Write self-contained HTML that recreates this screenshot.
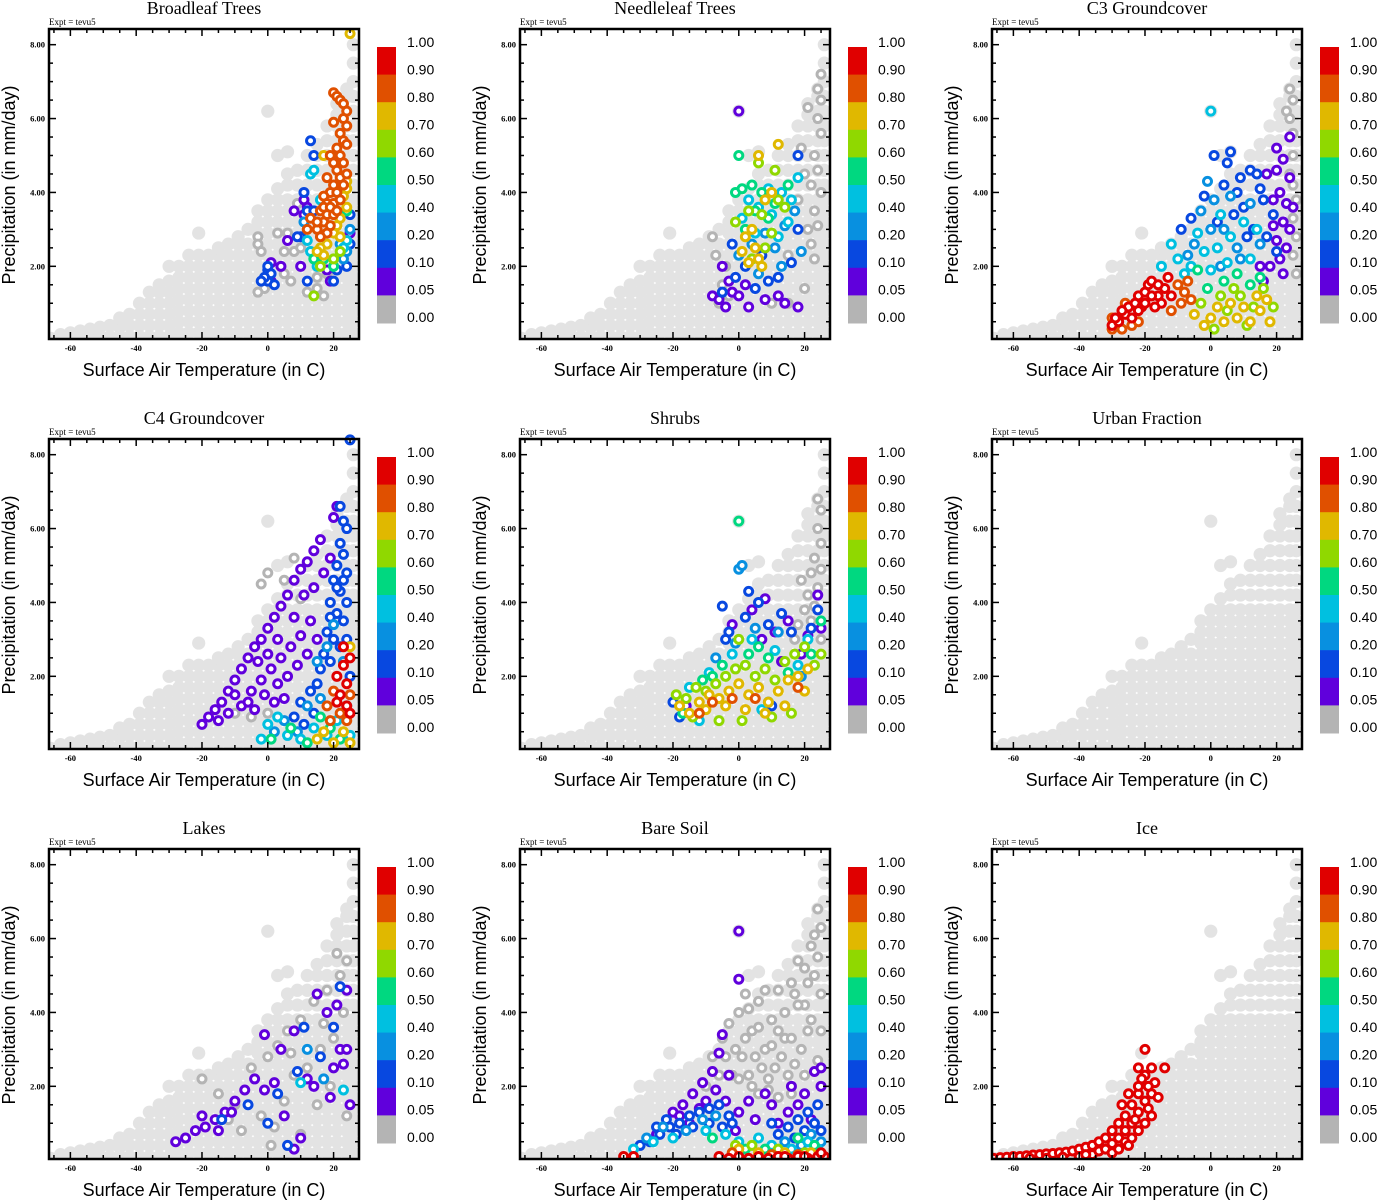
<!DOCTYPE html>
<html><head><meta charset="utf-8"><style>
html,body{margin:0;padding:0;background:#fff;}
svg{display:block;}
.tt{font-family:"Liberation Serif",serif;font-size:18px;fill:#000;text-anchor:middle;}
.ex{font-family:"Liberation Serif",serif;font-size:9px;fill:#000;}
.tk{font-family:"Liberation Serif",serif;font-size:8.5px;font-weight:bold;fill:#000;}
.at{font-family:"Liberation Sans",sans-serif;font-size:18px;fill:#000;text-anchor:middle;}
.cl{font-family:"Liberation Sans",sans-serif;font-size:14px;fill:#000;}
</style></head><body>
<svg id="fig" width="1377" height="1200" viewBox="0 0 1377 1200" xmlns="http://www.w3.org/2000/svg"></svg>
<script>
const panelTitles = ["Broadleaf Trees","Needleleaf Trees","C3 Groundcover","C4 Groundcover","Shrubs","Urban Fraction","Lakes","Bare Soil","Ice"];
const xTicks = [-60,-40,-20,0,20];
const yTicks = [2,4,6,8];
const yTickLabels = ["2.00","4.00","6.00","8.00"];
const levelLabels = ["1.00","0.90","0.80","0.70","0.60","0.50","0.40","0.20","0.10","0.05","0.00"];
const levels = [0,0.05,0.1,0.2,0.4,0.5,0.6,0.7,0.8,0.9,1.0];
const binColors = ["#b4b4b4","#6000dc","#0848e0","#0890e0","#00c0e0","#00d880","#90d800","#e0b800","#e05000","#e00000"];
// background (all gridboxes): [T, [P...]]
const bgCols = [
[-66,[0.05]],[-63,[0.05,0.15]],[-60,[0.05,0.2]],[-57,[0.1,0.25]],[-54,[0.1,0.3]],[-51,[0.1,0.35]],[-48,[0.1,0.4]],
[-45,[0.1,0.35,0.6]],[-42,[0.1,0.4,0.7]],[-39,[0.1,0.4,0.7,1.0]],[-36,[0.1,0.4,0.7,1.0,1.3]],[-33,[0.1,0.4,0.7,1.0,1.3,1.5]],
[-30,[0.1,0.4,0.7,1.0,1.3,1.6,2.0]],[-27,[0.2,0.5,0.8,1.1,1.4,1.7,2.0]],[-24,[0.2,0.5,0.8,1.1,1.4,1.7,2.0,2.3]],
[-21,[0.2,0.5,0.8,1.1,1.4,1.7,2.0,2.3,2.9]],[-18,[0.2,0.5,0.8,1.1,1.4,1.7,2.0,2.3]],[-15,[0.2,0.5,0.8,1.1,1.4,1.7,2.0,2.3,2.5]],
[-12,[0.2,0.5,0.8,1.1,1.4,1.7,2.0,2.3,2.6]],[-9,[0.2,0.5,0.8,1.1,1.4,1.7,2.0,2.3,2.6,2.8]],[-6,[0.2,0.5,0.8,1.1,1.4,1.7,2.0,2.3,2.6,3.0]],
[-3,[0.2,0.5,0.8,1.1,1.4,1.7,2.0,2.3,2.6,2.9,3.2,3.5]],[0,[0.2,0.5,0.8,1.1,1.4,1.7,2.0,2.3,2.6,2.9,3.2,3.5,3.8,6.2]],
[3,[0.2,0.5,0.8,1.1,1.4,1.7,2.0,2.3,2.6,2.9,3.2,3.5,3.8,4.1,5.0]],[6,[0.2,0.5,0.8,1.1,1.4,1.7,2.0,2.3,2.6,2.9,3.2,3.5,3.8,4.2,4.5,5.1]],
[9,[0.2,0.5,0.8,1.1,1.4,1.7,2.0,2.3,2.6,2.9,3.2,3.5,3.8,4.2,4.6]],[12,[0.2,0.5,0.8,1.1,1.4,1.7,2.0,2.3,2.6,2.9,3.2,3.5,3.8,4.2,4.6,5.0]],
[15,[0.2,0.5,0.8,1.1,1.4,1.7,2.0,2.3,2.6,2.9,3.2,3.5,3.8,4.2,4.6,5.0,5.3]],[18,[0.2,0.5,0.8,1.1,1.4,1.7,2.0,2.3,2.6,2.9,3.2,3.5,3.8,4.2,4.6,5.0,5.4,5.8]],
[21,[0.2,0.5,0.8,1.1,1.4,1.7,2.0,2.3,2.6,2.9,3.2,3.5,3.8,4.2,4.6,5.0,5.4,5.8,6.1,6.4]],[24,[0.2,0.5,0.8,1.1,1.4,1.7,2.0,2.3,2.6,2.9,3.2,3.5,3.8,4.2,4.6,5.0,5.4,5.8,6.2,6.6,6.8]],
[26,[0.2,0.5,0.8,1.1,1.4,1.7,2.0,2.3,2.6,2.9,3.2,3.5,3.8,4.2,4.6,5.0,5.4,5.8,6.2,6.6,7.0,7.5,8.0]]
];
// per-panel points: [T, P, fraction]
const broadleafPts = [
[-3,2.8,0],[-3,2.6,0],[-2,2.4,0],[-1,1.4,0],[-3,1.3,0],[3,2.9,0],[6,2.9,0],[5,2.4,0],[8,2.4,0],[10,2.5,0],[9,3.7,0],[12,1.3,0],[15,1.4,0],[17,1.2,0],[18,1.8,0],[19,1.9,0],[5,1.8,0],[7,1.6,0],[15,1.7,0],
[11,3.8,0.07],[8,3.5,0.07],[11,3.4,0.07],[12,3.6,0.07],[6,2.7,0.07],[1,2.1,0.07],[4,2.0,0.07],[10,2.0,0.07],[19,1.6,0.07],[1,1.6,0.07],[25,2.9,0.07],[18,1.9,0.07],[22,2.3,0.07],
[13,5.4,0.15],[14,5.0,0.15],[11,4.0,0.15],[12,3.5,0.15],[14,3.5,0.15],[25,3.4,0.15],[24,2.0,0.15],[21,1.9,0.15],[20,1.6,0.15],[12,1.6,0.15],[10,2.8,0.15],[0,1.9,0.15],[1,1.8,0.15],[0,1.6,0.15],[-1,1.7,0.15],[0,2.0,0.15],[2,1.5,0.15],[-2,1.6,0.15],[25,2.6,0.15],[9,2.8,0.15],
[11,3.2,0.3],[24,2.4,0.3],[23,2.2,0.3],[22,2.6,0.3],[25,3.0,0.3],
[13,2.4,0.45],[15,2.0,0.45],[13,4.5,0.45],[14,4.6,0.45],[24,2.7,0.45],[23,2.5,0.45],[16,3.8,0.45],[12,2.7,0.45],
[14,2.2,0.55],[17,2.2,0.55],[24,3.5,0.55],[20,2.0,0.55],
[14,1.2,0.65],[16,2.0,0.65],[22,2.4,0.65],[20,2.2,0.65],
[24,4.1,0.75],[23,3.9,0.75],[24,3.6,0.75],[22,3.3,0.75],[21,3.1,0.75],[20,2.9,0.75],[18,2.6,0.75],[16,2.5,0.75],[17,2.3,0.75],[15,2.4,0.75],[22,2.8,0.75],[25,8.3,0.75],[17,5.0,0.75],[24,4.3,0.75],
[20,6.7,0.85],[21,6.6,0.85],[22,6.5,0.85],[23,6.4,0.85],[24,6.2,0.85],[23,6.0,0.85],[24,5.8,0.85],[22,5.6,0.85],[23,5.4,0.85],[21,5.2,0.85],[24,5.3,0.85],[22,5.0,0.85],[19,5.0,0.85],[20,4.8,0.85],[23,4.8,0.85],[21,4.6,0.85],[18,4.4,0.85],[22,4.4,0.85],[24,4.5,0.85],[20,4.2,0.85],[23,4.2,0.85],[19,4.0,0.85],[21,4.0,0.85],[17,3.9,0.85],[18,3.7,0.85],[20,3.7,0.85],[22,3.8,0.85],[16,3.5,0.85],[18,3.4,0.85],[20,3.4,0.85],[17,3.2,0.85],[19,3.1,0.85],[15,3.0,0.85],[18,2.9,0.85],[16,2.8,0.85],[13,3.3,0.85],[12,3.0,0.85],[20,5.9,0.85],[17,3.6,0.85],[19,3.6,0.85],[21,3.5,0.85],[15,3.2,0.85]
];
const needleleafPts = [
[24,6.8,0],[25,6.5,0],[24,6.0,0],[25,5.6,0],[23,5.0,0],[24,4.6,0],[22,4.2,0],[25,4.0,0],[23,3.5,0],[24,3.1,0],[21,3.0,0],[20,4.5,0],[18,3.8,0],[22,2.6,0],[-8,2.8,0],[-7,2.3,0],[-5,1.5,0],[-3,1.2,0],[10,1.0,0],[15,1.0,0],[20,1.4,0],[-6,1.0,0],[19,5.2,0],[25,7.2,0],[21,6.3,0],[23,2.2,0],[15,2.3,0],[-4,2.0,0],
[0,6.2,0.07],[-8,1.2,0.07],[-6,1.1,0.07],[-4,0.9,0.07],[-2,1.3,0.07],[0,1.2,0.07],[3,0.9,0.07],[8,1.1,0.07],[12,1.2,0.07],[14,1.0,0.07],[18,0.9,0.07],[-3,1.6,0.07],[2,1.5,0.07],[-5,2.0,0.07],
[-1,1.7,0.15],[2,2.0,0.15],[5,1.4,0.15],[9,1.6,0.15],[12,1.7,0.15],[16,2.1,0.15],[18,5.0,0.15],[-5,1.3,0.15],[7,2.3,0.15],[18,3.0,0.15],[-2,2.6,0.15],
[0,2.3,0.3],[4,2.6,0.3],[8,2.9,0.3],[11,2.5,0.3],[14,3.1,0.3],[17,3.5,0.3],[6,1.8,0.3],[13,2.0,0.3],[19,2.4,0.3],
[1,3.3,0.45],[3,3.8,0.45],[6,3.6,0.45],[10,3.4,0.45],[13,4.0,0.45],[16,3.8,0.45],[18,4.4,0.45],[5,2.9,0.45],[15,3.2,0.45],[9,4.1,0.45],[12,2.8,0.45],
[-1,4.0,0.55],[1,4.1,0.55],[4,4.2,0.55],[7,4.0,0.55],[2,3.0,0.55],[9,3.3,0.55],[15,4.2,0.55],[11,3.7,0.55],[0,5.0,0.55],[5,3.5,0.55],
[3,3.5,0.65],[7,3.4,0.65],[10,2.9,0.65],[12,3.8,0.65],[4,2.2,0.65],[8,2.5,0.65],[6,4.8,0.65],[14,3.6,0.65],[-1,3.2,0.65],[11,4.6,0.65],
[5,2.5,0.75],[3,2.1,0.75],[6,2.2,0.75],[8,3.8,0.75],[2,2.8,0.75],[12,5.3,0.75],[6,5.0,0.75],[10,4.0,0.75],[4,3.0,0.75],[7,2.0,0.75],[1,2.4,0.75]
];
const c3Pts = [
[24,6.8,0],[25,6.5,0],[24,6.0,0],[25,5.6,0],[23,6.2,0],[25,5.0,0],[24,4.5,0],[25,4.2,0],[26,3.8,0],[25,3.3,0],[26,2.8,0],[25,2.3,0],[26,1.8,0],
[20,5.2,0.07],[22,4.9,0.07],[24,4.4,0.07],[21,4.0,0.07],[23,3.7,0.07],[19,3.1,0.07],[22,3.2,0.07],[20,2.7,0.07],[24,3.0,0.07],[18,2.0,0.07],[21,2.2,0.07],[23,2.5,0.07],[16,1.6,0.07],[25,3.6,0.07],[22,1.8,0.07],[17,4.5,0.07],[15,2.0,0.07],[24,5.5,0.07],[20,4.6,0.07],[19,3.8,0.07],
[1,5.0,0.15],[5,4.8,0.15],[8,4.0,0.15],[10,3.6,0.15],[12,4.6,0.15],[14,4.5,0.15],[16,3.8,0.15],[2,3.2,0.15],[7,3.4,0.15],[11,2.8,0.15],[17,2.8,0.15],[19,3.4,0.15],[-2,3.9,0.15],[4,4.2,0.15],[13,3.0,0.15],[20,2.4,0.15],[6,5.1,0.15],[-9,3.0,0.15],[9,4.4,0.15],[-6,3.3,0.15],[15,4.1,0.15],
[-5,2.6,0.3],[0,3.0,0.3],[4,3.0,0.3],[8,2.5,0.3],[12,3.7,0.3],[-3,3.5,0.3],[1,3.8,0.3],[6,3.9,0.3],[9,2.2,0.3],[-7,2.3,0.3],[3,2.0,0.3],[15,2.6,0.3],[-1,4.3,0.3],
[-15,2.0,0.45],[-10,2.2,0.45],[-6,2.0,0.45],[-2,2.4,0.45],[2,2.5,0.45],[6,2.8,0.45],[10,3.2,0.45],[14,3.0,0.45],[-8,1.8,0.45],[0,1.9,0.45],[5,2.1,0.45],[0,6.2,0.45],[-12,2.6,0.45],[12,2.2,0.45],[-4,2.9,0.45],[3,3.4,0.45],
[-1,1.4,0.55],[4,1.6,0.55],[8,1.8,0.55],[12,1.5,0.55],[-4,1.9,0.55],[15,1.7,0.55],
[1,0.3,0.65],[5,0.8,0.65],[9,1.2,0.65],[13,0.9,0.65],[16,1.4,0.65],[3,1.2,0.65],[11,0.4,0.65],[7,1.4,0.65],[-3,1.0,0.65],[19,0.9,0.65],
[0,0.6,0.75],[4,0.5,0.75],[8,0.6,0.75],[12,0.5,0.75],[15,0.8,0.75],[17,1.1,0.75],[6,1.0,0.75],[10,0.9,0.75],[2,0.9,0.75],[14,1.2,0.75],[18,0.5,0.75],[-2,0.4,0.75],[-5,0.7,0.75],
[-30,0.6,0.85],[-27,0.3,0.85],[-24,0.4,0.85],[-22,0.5,0.85],[-10,1.5,0.85],[-8,1.3,0.85],[-12,0.8,0.85],[-6,1.1,0.85],[-9,1.0,0.85],[-26,1.0,0.85],[-30,0.3,0.85],[-7,1.6,0.85],
[-30,0.4,0.95],[-28,0.5,0.95],[-26,0.7,0.95],[-25,0.9,0.95],[-23,1.0,0.95],[-22,1.2,0.95],[-20,1.3,0.95],[-19,1.5,0.95],[-18,1.6,0.95],[-16,1.2,0.95],[-15,1.0,0.95],[-14,1.4,0.95],[-13,1.7,0.95],[-24,0.6,0.95],[-21,0.9,0.95],[-17,0.9,0.95],[-27,0.8,0.95],[-29,0.6,0.95],[-12,1.2,0.95],[-20,1.0,0.95],[-18,1.2,0.95],[-22,0.8,0.95],[-16,1.5,0.95]
];
const c4Pts = [
[-10,1.0,0],[-5,0.9,0],[0,1.0,0],[-2,4.5,0],[0,4.8,0],[5,4.6,0],[8,5.2,0],[10,4.1,0],
[-20,0.7,0.07],[-18,0.9,0.07],[-16,1.1,0.07],[-14,1.3,0.07],[-12,1.6,0.07],[-10,1.9,0.07],[-8,2.2,0.07],[-6,2.5,0.07],[-4,2.8,0.07],[-2,3.0,0.07],[0,3.3,0.07],[2,3.6,0.07],[4,3.9,0.07],[6,4.2,0.07],[8,4.6,0.07],[10,4.9,0.07],[12,5.1,0.07],[14,5.4,0.07],[16,5.7,0.07],[-15,0.8,0.07],[-12,1.0,0.07],[-8,1.2,0.07],[-5,1.6,0.07],[-2,1.9,0.07],[1,2.2,0.07],[4,2.5,0.07],[7,2.8,0.07],[10,3.1,0.07],[13,3.5,0.07],[-6,1.3,0.07],[-1,1.5,0.07],[3,1.8,0.07],[6,2.0,0.07],[9,2.3,0.07],[12,2.6,0.07],[15,3.0,0.07],[0,2.6,0.07],[3,3.0,0.07],[8,3.6,0.07],[11,4.2,0.07],[14,4.4,0.07],[-10,1.5,0.07],[-3,2.4,0.07],[5,1.4,0.07],[17,4.8,0.07],[19,5.2,0.07],[20,6.3,0.07],[21,6.6,0.07],[-4,1.1,0.07],[2,1.3,0.07],
[22,6.6,0.15],[23,6.2,0.15],[24,6.0,0.15],[22,5.6,0.15],[23,5.3,0.15],[21,5.0,0.15],[24,4.8,0.15],[20,4.6,0.15],[22,4.3,0.15],[24,4.0,0.15],[19,4.0,0.15],[21,3.7,0.15],[23,3.5,0.15],[18,3.2,0.15],[20,3.0,0.15],[22,2.8,0.15],[17,2.6,0.15],[19,2.4,0.15],[16,2.2,0.15],[15,1.8,0.15],[13,1.6,0.15],[10,1.3,0.15],[24,3.0,0.15],[25,2.0,0.15],[14,1.0,0.15],[8,0.9,0.15],[11,0.7,0.15],[19,3.6,0.15],[21,4.4,0.15],[23,4.6,0.15],[25,8.4,0.15],
[20,3.4,0.3],[18,2.8,0.3],[15,2.4,0.3],[12,1.2,0.3],[5,0.8,0.3],[2,0.5,0.3],[16,1.4,0.3],[23,2.4,0.3],[9,0.5,0.3],
[0,0.7,0.45],[3,0.9,0.45],[6,0.4,0.45],[10,0.3,0.45],[14,0.6,0.45],[18,0.4,0.45],[21,0.8,0.45],[24,1.2,0.45],[-2,0.3,0.45],[25,0.4,0.45],
[1,0.3,0.55],[7,0.6,0.55],[12,0.2,0.55],[16,0.9,0.55],[19,0.6,0.55],[22,0.3,0.55],
[15,0.3,0.75],[20,0.2,0.75],[23,0.5,0.75],[25,0.2,0.75],[17,0.5,0.75],[25,2.8,0.75],
[18,1.2,0.85],[22,1.0,0.85],[24,0.8,0.85],[20,1.6,0.85],[25,1.5,0.85],[19,0.8,0.85],
[21,2.0,0.95],[23,2.3,0.95],[24,1.8,0.95],[22,1.5,0.95],[25,2.5,0.95],[24,1.2,0.95],[23,2.8,0.95],[21,1.3,0.95],[25,1.0,0.95]
];
const shrubPts = [
[24,6.8,0],[25,6.5,0],[24,6.0,0],[25,5.6,0],[23,5.2,0],[22,4.8,0],[24,4.4,0],[21,4.2,0],[20,3.8,0],[23,3.9,0],[18,3.4,0],[25,4.9,0],[19,4.6,0],[22,3.5,0],[17,3.0,0],[25,3.0,0],
[4,3.8,0.07],[8,4.1,0.07],[11,3.2,0.07],[15,3.5,0.07],[21,3.1,0.07],[24,4.2,0.07],[-2,3.4,0.07],[7,3.0,0.07],[13,2.4,0.07],[19,2.6,0.07],[-16,1.2,0.07],[25,3.3,0.07],
[-3,3.2,0.15],[2,3.6,0.15],[6,4.0,0.15],[9,3.4,0.15],[13,3.7,0.15],[16,3.2,0.15],[22,3.3,0.15],[-5,3.9,0.15],[3,4.3,0.15],[-18,0.9,0.15],[-20,1.3,0.15],[10,1.2,0.15],[24,3.8,0.15],[-4,3.0,0.15],
[-1,2.9,0.3],[5,3.3,0.3],[12,3.2,0.3],[19,2.0,0.3],[0,4.9,0.3],[1,5.0,0.3],[9,1.3,0.3],[-7,2.5,0.3],
[-15,1.7,0.45],[-9,2.1,0.45],[-2,2.6,0.45],[4,3.0,0.45],[11,2.7,0.45],[18,2.3,0.45],[-12,0.8,0.45],[7,1.1,0.45],[21,3.0,0.45],
[-17,1.0,0.55],[-11,1.9,0.55],[-5,2.3,0.55],[3,2.6,0.55],[9,2.5,0.55],[15,2.1,0.55],[22,2.6,0.55],[-8,2.0,0.55],[0,6.2,0.55],[6,2.8,0.55],[25,3.5,0.55],
[-19,1.5,0.65],[-16,1.4,0.65],[-13,1.7,0.65],[-10,1.6,0.65],[-7,1.8,0.65],[-4,2.0,0.65],[-1,2.2,0.65],[2,2.3,0.65],[5,2.0,0.65],[8,2.2,0.65],[11,1.9,0.65],[14,2.4,0.65],[17,2.6,0.65],[20,2.8,0.65],[23,2.3,0.65],[-14,0.9,0.65],[-6,0.8,0.65],[1,0.8,0.65],[10,0.9,0.65],[16,1.0,0.65],[0,3.0,0.65],[25,2.6,0.65],
[-18,1.2,0.75],[-15,1.0,0.75],[-12,1.3,0.75],[-9,1.5,0.75],[-6,1.4,0.75],[-3,1.6,0.75],[0,1.8,0.75],[3,1.5,0.75],[6,1.7,0.75],[9,1.3,0.75],[12,1.6,0.75],[15,1.9,0.75],[18,2.0,0.75],[21,2.2,0.75],[-10,1.1,0.75],[-4,1.2,0.75],[2,1.1,0.75],[8,1.0,0.75],[14,1.2,0.75],[20,1.6,0.75],
[-8,1.3,0.85],[-2,1.4,0.85],[5,1.4,0.85],[-12,1.0,0.85],[18,1.7,0.85]
];
const urbanPts = [];
const lakePts = [
[-20,2.2,0],[-15,1.8,0],[-10,1.5,0],[-5,2.5,0],[0,2.8,0],[3,3.1,0],[6,3.5,0],[10,3.8,0],[14,4.3,0],[18,4.6,0],[22,5.0,0],[24,5.4,0],[-2,1.2,0],[2,0.9,0],[5,1.6,0],[8,2.3,0],[12,2.5,0],[16,3.0,0],[20,3.3,0],[23,4.0,0],[-8,0.8,0],[1,0.4,0],[15,1.5,0],[19,2.0,0],[24,1.2,0],[10,0.7,0],[-12,1.1,0],[7,2.9,0],[21,5.6,0],[17,3.7,0],
[-28,0.5,0.07],[-25,0.6,0.07],[-22,0.8,0.07],[-19,0.9,0.07],[-16,1.1,0.07],[-13,1.3,0.07],[-10,1.6,0.07],[-7,1.9,0.07],[-4,2.2,0.07],[-1,1.9,0.07],[2,2.1,0.07],[4,3.0,0.07],[8,3.5,0.07],[12,2.2,0.07],[15,4.5,0.07],[18,4.0,0.07],[20,2.5,0.07],[22,3.0,0.07],[24,4.6,0.07],[25,1.5,0.07],[-20,1.2,0.07],[-11,1.3,0.07],[5,1.2,0.07],[10,0.6,0.07],[19,1.7,0.07],[-1,3.4,0.07],[14,2.0,0.07],[24,3.0,0.07],[8,0.3,0.07],[-15,0.8,0.07],[21,4.2,0.07],[23,2.6,0.07],
[-14,1.1,0.15],[-6,1.5,0.15],[0,1.0,0.15],[6,0.4,0.15],[11,3.6,0.15],[16,2.8,0.15],[22,4.7,0.15],[20,3.6,0.15],[3,1.8,0.15],[9,2.4,0.15],
[12,3.0,0.3],[17,2.2,0.3],[10,2.1,0.45],[23,1.9,0.45]
];
const bareSoilPts = [
[-8,2.8,0],[-5,3.3,0],[-3,3.7,0],[0,4.0,0],[2,4.5,0],[4,3.5,0],[6,4.3,0],[8,3.0,0],[10,3.8,0],[12,4.6,0],[14,3.3,0],[16,4.8,0],[18,5.4,0],[20,4.2,0],[22,5.8,0],[24,6.8,0],[25,6.3,0],[23,5.0,0],[21,3.5,0],[19,3.0,0],[17,2.6,0],[15,2.3,0],[13,2.8,0],[11,2.5,0],[9,2.2,0],[7,2.5,0],[5,2.8,0],[3,2.3,0],[1,2.8,0],[-1,3.0,0],[0,2.2,0],[-6,2.3,0],[8,4.6,0],[24,5.5,0],[25,4.5,0],[22,3.8,0],[25,3.5,0],[24,2.7,0],[20,2.3,0],[16,1.8,0],[12,1.7,0],[6,1.8,0],[-2,2.3,0],[-10,2.0,0],[3,4.1,0],[14,4.0,0],[18,4.2,0],[10,3.1,0],[6,3.6,0],[20,5.2,0],[-4,2.8,0],[2,3.3,0],[16,3.3,0],[12,3.5,0],[23,6.1,0],[21,4.8,0],[17,4.5,0],[4,2.0,0],[9,1.9,0],
[-20,1.3,0.07],[-17,1.5,0.07],[-14,1.8,0.07],[-11,2.1,0.07],[-8,2.4,0.07],[-6,2.9,0.07],[-5,3.4,0.07],[-3,2.3,0.07],[-10,1.6,0.07],[-15,1.0,0.07],[-12,1.4,0.07],[-7,1.9,0.07],[-4,1.6,0.07],[0,1.3,0.07],[5,1.1,0.07],[10,1.5,0.07],[15,1.3,0.07],[20,1.8,0.07],[23,2.4,0.07],[25,2.0,0.07],[12,1.0,0.07],[18,1.5,0.07],[22,1.1,0.07],[8,1.8,0.07],[-1,0.8,0.07],[0,6.2,0.07],[0,4.9,0.07],[25,2.5,0.07],[-25,0.7,0.07],[-18,1.2,0.07],[3,1.6,0.07],[16,2.0,0.07],
[-30,0.4,0.15],[-27,0.5,0.15],[-24,0.7,0.15],[-21,0.9,0.15],[-18,1.0,0.15],[-15,1.2,0.15],[-12,1.3,0.15],[-9,1.4,0.15],[-6,1.5,0.15],[-3,1.2,0.15],[-19,0.7,0.15],[-14,0.9,0.15],[-9,1.0,0.15],[-5,0.9,0.15],[12,0.7,0.15],[15,0.9,0.15],[18,1.1,0.15],[21,1.3,0.15],[24,1.5,0.15],[20,0.8,0.15],[23,1.0,0.15],[10,1.0,0.15],[-2,1.0,0.15],[25,0.8,0.15],[-22,1.1,0.15],[-25,0.9,0.15],[17,0.6,0.15],
[-28,0.6,0.3],[-23,0.9,0.3],[-16,0.8,0.3],[-11,1.1,0.3],[-7,1.2,0.3],[14,0.5,0.3],[19,0.4,0.3],[22,0.7,0.3],[25,0.5,0.3],
[-32,0.3,0.45],[-26,0.5,0.45],[-20,0.6,0.45],[0,0.5,0.45],[6,0.6,0.45],[10,0.4,0.45],[16,0.3,0.45],[21,0.5,0.45],[24,0.3,0.45],[-10,0.8,0.45],[-4,0.7,0.45],
[2,0.3,0.55],[8,0.3,0.55],[18,0.6,0.55],[23,0.4,0.55],[-8,0.6,0.55],
[4,0.4,0.65],[12,0.3,0.65],[20,0.2,0.65],[-1,0.4,0.65],
[6,0.2,0.75],[14,0.2,0.75],[22,0.2,0.75],[0,0.3,0.75],
[10,0.15,0.85],[18,0.15,0.85],[25,0.15,0.85],[-2,0.2,0.85],
[-35,0.1,0.95],[-32,0.1,0.95],[0,0.1,0.95],[3,0.05,0.95],[6,0.1,0.95],[9,0.05,0.95],[12,0.1,0.95],[15,0.05,0.95],[18,0.1,0.95],[21,0.05,0.95],[24,0.1,0.95],[26,0.1,0.95],[-3,0.05,0.95],[-6,0.1,0.95],[14,0.1,0.95],[20,0.1,0.95],[25,0.2,0.95]
];
const icePts = [
[-66,0.05,0.95],[-64,0.07,0.95],[-62,0.08,0.95],[-60,0.1,0.95],[-58,0.1,0.95],[-56,0.12,0.95],[-54,0.14,0.95],[-52,0.15,0.95],[-50,0.17,0.95],[-48,0.18,0.95],[-46,0.2,0.95],[-44,0.22,0.95],[-42,0.25,0.95],[-40,0.3,0.95],[-38,0.35,0.95],[-40,0.1,0.95],[-36,0.4,0.95],[-36,0.15,0.95],[-34,0.5,0.95],[-34,0.25,0.95],[-32,0.6,0.95],[-32,0.3,0.95],[-30,0.8,0.95],[-30,0.45,0.95],[-30,0.2,0.95],[-28,1.0,0.95],[-28,0.6,0.95],[-28,0.3,0.95],[-26,1.2,0.95],[-26,0.8,0.95],[-26,0.5,0.95],[-24,1.5,0.95],[-24,1.0,0.95],[-24,0.6,0.95],[-22,1.8,0.95],[-22,1.3,0.95],[-22,0.8,0.95],[-20,2.3,0.95],[-20,1.6,0.95],[-20,1.0,0.95],[-18,2.5,0.95],[-18,1.8,0.95],[-18,1.2,0.95],[-22,2.5,0.95],[-21,2.2,0.95],[-25,1.8,0.95],[-23,1.1,0.95],[-19,1.4,0.95],[-27,1.5,0.95],[-20,3.0,0.95],[-16,1.7,0.95],[-17,2.1,0.95],[-25,0.4,0.95],[-50,0.05,0.95],[-55,0.05,0.95],[-45,0.08,0.95],[-38,0.15,0.95],[-14,2.5,0.95],[-22,2.0,0.95],[-19,2.0,0.95]
];
const panelPts = [broadleafPts,needleleafPts,c3Pts,c4Pts,shrubPts,urbanPts,lakePts,bareSoilPts,icePts];

const NS = "http://www.w3.org/2000/svg";
const svg = document.getElementById("fig");
function mk(tag, attrs, parent){ const e=document.createElementNS(NS,tag); for(const k in attrs) e.setAttribute(k,attrs[k]); (parent||svg).appendChild(e); return e; }
function binOf(v){ if(v<=0) return 0; for(let i=levels.length-2;i>=0;i--){ if(v>=levels[i]) return Math.min(i,9);} return 0; }
const slug = t => t.toLowerCase().replace(/[^a-z0-9]+/g,'-');

panelTitles.forEach((title, idx) => {
  const col = idx % 3, row = Math.floor(idx/3);
  const ox = [0,471,943][col], oy = row*410;
  const L = 49+ox, T = 29+oy, W = 310, H = 310;
  const xs = t => L + (t+66.5)*3.29;
  const ys = p => T + 311.2 - p*36.94;
  const g = mk('g',{});
  
  
  const tt = mk('text',{x:L+155,y:T-15,class:'tt'},g); tt.textContent = title;
   
  const ex = mk('text',{x:L,y:T-4,class:'ex'},g); ex.textContent = 'Expt = tevu5';
   
  const pg = mk('g',{},g);
   
  bgCols.forEach(([t,ps]) => ps.forEach(p => {
    const c = mk('circle',{cx:xs(t),cy:ys(p),r:6.6,fill:'#e3e3e3'},pg);
     
  }));
  const sorted = panelPts[idx].slice().sort((a,b)=>a[2]-b[2]);
  sorted.forEach(([t,p,v]) => {
    const c = mk('circle',{cx:xs(t),cy:ys(p),r:4,fill:'#fff',stroke:binColors[binOf(v)],'stroke-width':3},pg);
     
  });
  // mask overflow outside frame
  mk('rect',{x:L-10,y:T-12,width:10,height:H+24,fill:'#fff'},g);
  mk('rect',{x:L+W,y:T-12,width:12,height:H+24,fill:'#fff'},g);
  mk('rect',{x:L-10,y:T+H,width:W+22,height:10,fill:'#fff'},g);
  const fr = mk('rect',{x:L,y:T,width:W,height:H,fill:'none',stroke:'#000','stroke-width':2.5},g);
   
  for(let t=-65;t<=25;t+=5){
    const major = t%20===0;
    const len = major?7:4;
    mk('line',{x1:xs(t),x2:xs(t),y1:T+H,y2:T+H-len,stroke:'#000','stroke-width':1.5},g);
    mk('line',{x1:xs(t),x2:xs(t),y1:T,y2:T+len,stroke:'#000','stroke-width':1.5},g);
  }
  xTicks.forEach(t => {
    const e = mk('text',{x:xs(t),y:T+H+12,class:'tk','text-anchor':'middle'},g); e.textContent = t;
     
  });
  for(let p=0.5;p<=8;p+=0.5){
    const major = Math.abs(p%2)<1e-6;
    const len = major?7:4;
    mk('line',{x1:L,x2:L+len,y1:ys(p),y2:ys(p),stroke:'#000','stroke-width':1.5},g);
    mk('line',{x1:L+W,x2:L+W-len,y1:ys(p),y2:ys(p),stroke:'#000','stroke-width':1.5},g);
  }
  yTicks.forEach((p,i) => {
    const e = mk('text',{x:L-4,y:ys(p)+3,class:'tk','text-anchor':'end'},g); e.textContent = yTickLabels[i];
     
  });
  const xt = mk('text',{x:L+155,y:T+H+37,class:'at'},g); xt.textContent = 'Surface Air Temperature (in C)';
   
  const yt = mk('text',{x:0,y:0,class:'at',transform:`translate(${L-34},${T+156}) rotate(-90)`},g); yt.textContent = 'Precipitation (in mm/day)';
   
  const cb = mk('g',{},g);
   
  const cbx = L+328, cby = T+18, bh = 27.6;
  for(let i=0;i<10;i++){
    const r = mk('rect',{x:cbx,y:cby+i*bh,width:19,height:bh+0.5,fill:binColors[9-i]},cb);
     
  }
  levelLabels.forEach((lab,i) => {
    const e = mk('text',{x:cbx+30,y:cby+i*27.5,class:'cl'},cb); e.textContent = lab;
     
  });
});
</script>
</body></html>
